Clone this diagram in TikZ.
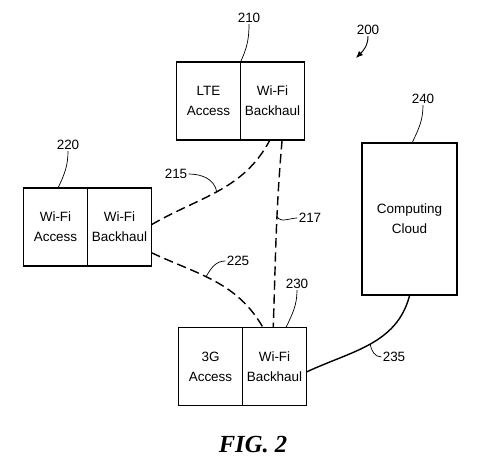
\documentclass[tikz,border=0pt]{standalone}
\usepackage{fontspec}
\setmainfont{Liberation Sans}
\newfontfamily\figfont{Liberation Serif}
\usepackage{xcolor}
\usepackage{tikz}
\usetikzlibrary{shapes,arrows,arrows.meta,positioning,calc}

\begin{document}
\begin{tikzpicture}[x=0.03cm, y=0.03cm,
        every node/.style={font=\fontsize{11.5}{17}\selectfont},
        half/.style={draw, line width=0.8pt, outer sep=0pt, inner sep=0pt,
            minimum width=1.92cm, minimum height=2.34cm, align=center},
        frame/.style={draw, line width=1.5pt},
        link/.style={line width=1.2pt, dash pattern=on 8pt off 4pt},
        leader/.style={line width=0.6pt},
        ref/.style={inner sep=1pt}]

    \useasboundingbox (0,0) rectangle (478,467);

    % base stations
    \node[half] (lteaccess) at (208.5,366) {LTE\\Access};
    \node[half, right=0pt of lteaccess] (ltebackhaul) {Wi-Fi\\Backhaul};
    \draw[frame] (lteaccess.north west) rectangle (ltebackhaul.south east);

    \node[half] (wifiaccess) at (55.5,240) {Wi-Fi\\Access};
    \node[half, right=0pt of wifiaccess] (wifibackhaul) {Wi-Fi\\Backhaul};
    \draw[frame] (wifiaccess.north west) rectangle (wifibackhaul.south east);

    \node[half] (threegaccess) at (210.5,100.5) {3G\\Access};
    \node[half, right=0pt of threegaccess] (threegbackhaul) {Wi-Fi\\Backhaul};
    \draw[frame] (threegaccess.north west) rectangle (threegbackhaul.south east);

    % cloud
    \node[draw, line width=1.5pt, minimum width=2.85cm, minimum height=4.56cm,
        align=center] (cloud) at (409.5,248) {Computing\\Cloud};

    % links
    \draw[link] ($(wifibackhaul.north east)!0.47!(wifibackhaul.south east)$)
        to[out=30,in=-118] node[coordinate, pos=0.48] (p215) {}
        ($(ltebackhaul.south west)!0.46!(ltebackhaul.south east)$);
    \draw[link] ($(ltebackhaul.south west)!0.65!(ltebackhaul.south east)$)
        to[out=-95,in=88] node[coordinate, pos=0.4] (p217) {}
        ($(threegbackhaul.north west)!0.48!(threegbackhaul.north east)$);
    \draw[link] ($(wifibackhaul.north east)!0.83!(wifibackhaul.south east)$)
        to[out=-25,in=120] node[coordinate, pos=0.42] (p225) {}
        ($(threegbackhaul.north west)!0.32!(threegbackhaul.north east)$);
    \draw[line width=1.2pt] ($(threegbackhaul.north east)!0.57!(threegbackhaul.south east)$)
        to[out=25,in=-105] node[coordinate, pos=0.5] (p235) {}
        (cloud.south);

    % reference numerals
    \node[ref] (n200) at (368,437) {200};
    \coordinate (t200) at (356,409);
    \draw[leader, line width=0.8pt, -{Latex[length=6pt,width=5pt]}]
        (n200.south) to[out=-90,in=45] (t200);

    \node[ref] (n210) at (249,449) {210};
    \draw[leader] (n210.south) to[out=-90,in=65] (lteaccess.north east);

    \node[ref] (n220) at (68,322) {220};
    \draw[leader] (n220.south) to[out=-90,in=65]
        ($(wifiaccess.north west)!0.54!(wifiaccess.north east)$);

    \node[ref] (n230) at (297,183) {230};
    \draw[leader] (n230.south) to[out=-90,in=65]
        ($(threegbackhaul.north west)!0.68!(threegbackhaul.north east)$);

    \node[ref] (n240) at (423,368) {240};
    \draw[leader] (n240.south) to[out=-90,in=65] ($(cloud.north)+(3,0)$);

    \node[ref] (n215) at (176,293) {215};
    \draw[leader] (n215.east) to[out=0,in=100] (p215);

    \node[ref] (n217) at (310,249) {217};
    \draw[leader] (n217.west) to[out=180,in=-60] (p217);

    \node[ref] (n225) at (238,206) {225};
    \draw[leader] (n225.west) to[out=180,in=60] (p225);

    \node[ref] (n235) at (394,110) {235};
    \draw[leader] (n235.west) to[out=180,in=-80] (p235);

    \node[font={\figfont\fontsize{21}{24}\selectfont\bfseries\itshape}] (fig) at (253,22) {FIG. 2};
\end{tikzpicture}
\end{document}
